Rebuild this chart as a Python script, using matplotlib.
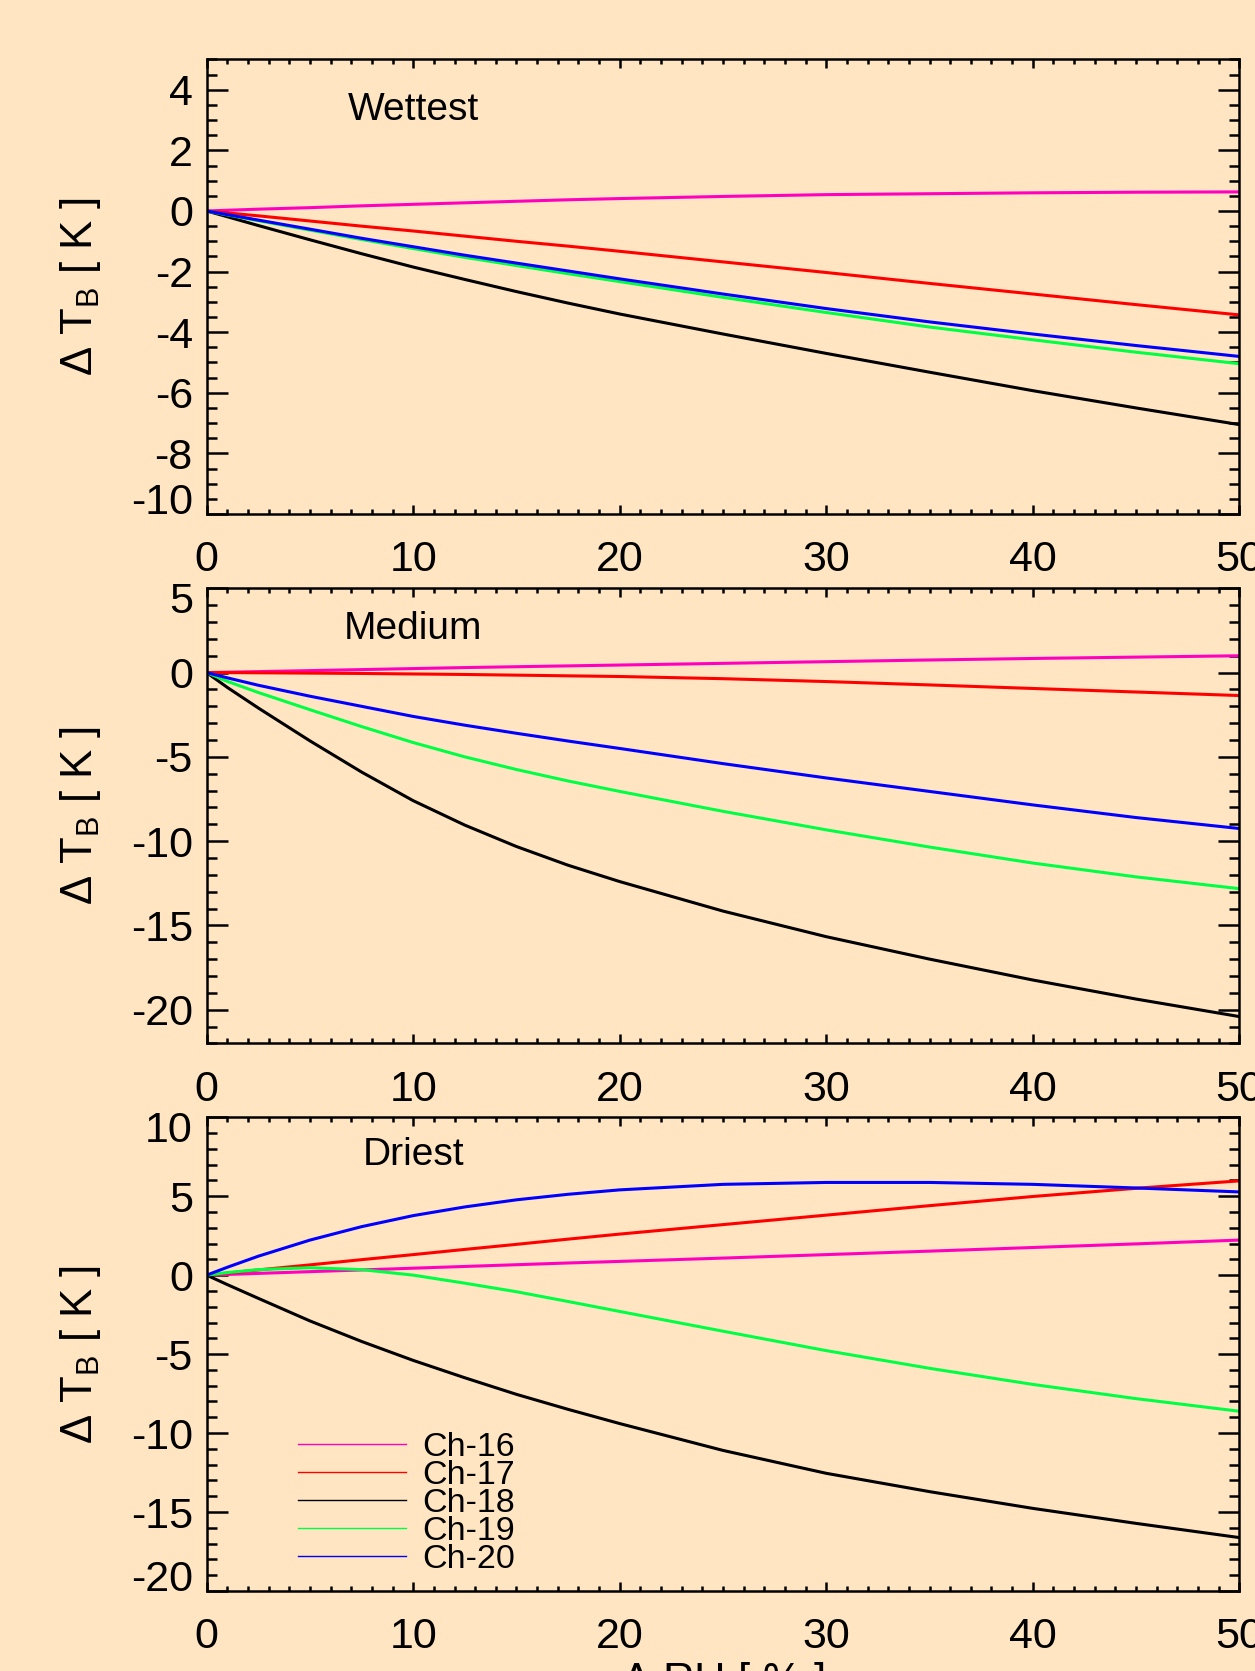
import numpy as np
import matplotlib
matplotlib.use("Agg")
import matplotlib.pyplot as plt
from matplotlib.ticker import MultipleLocator
from matplotlib.transforms import ScaledTranslation

plt.rcParams['font.family'] = ['Liberation Sans', 'DejaVu Sans']
plt.rcParams['mathtext.fontset'] = 'custom'
plt.rcParams['mathtext.rm'] = 'Liberation Sans'
plt.rcParams['axes.unicode_minus'] = False

# change in relative humidity [%]
drh = [0, 1, 2.5, 5, 7.5, 10, 12.5, 15, 17.5, 20, 25, 30, 35, 40, 45, 50]

channels = ["Ch-16", "Ch-17", "Ch-18", "Ch-19", "Ch-20"]
colors = ["#FF00C0", "#FF0000", "#000000", "#00FF44", "#0000FF"]

# Wettest profile
wet_ch16 = [0, 0.025, 0.06, 0.11, 0.17, 0.22, 0.27, 0.32, 0.37, 0.41, 0.48, 0.54, 0.57, 0.60, 0.62, 0.63]
wet_ch17 = [0, -0.065, -0.16, -0.33, -0.50, -0.66, -0.83, -1.00, -1.16, -1.33, -1.68, -2.03, -2.39, -2.74, -3.09, -3.43]
wet_ch18 = [0, -0.19, -0.48, -0.95, -1.41, -1.85, -2.26, -2.66, -3.04, -3.40, -4.06, -4.70, -5.32, -5.93, -6.50, -7.05]
wet_ch19 = [0, -0.13, -0.32, -0.63, -0.94, -1.24, -1.53, -1.80, -2.07, -2.33, -2.85, -3.35, -3.83, -4.25, -4.66, -5.04]
wet_ch20 = [0, -0.12, -0.30, -0.60, -0.90, -1.18, -1.46, -1.72, -1.98, -2.24, -2.74, -3.22, -3.66, -4.06, -4.44, -4.80]

# Medium profile
med_ch16 = [0, 0.025, 0.06, 0.12, 0.18, 0.24, 0.30, 0.35, 0.40, 0.45, 0.55, 0.65, 0.75, 0.84, 0.92, 1.00]
med_ch17 = [0, 0.0, -0.01, -0.03, -0.05, -0.08, -0.11, -0.15, -0.19, -0.23, -0.36, -0.53, -0.73, -0.94, -1.15, -1.36]
med_ch18 = [0, -0.88, -2.1, -4.05, -5.9, -7.6, -9.05, -10.32, -11.43, -12.4, -14.15, -15.67, -17.0, -18.24, -19.37, -20.41]
med_ch19 = [0, -0.52, -1.18, -2.2, -3.2, -4.15, -5.0, -5.75, -6.43, -7.05, -8.23, -9.33, -10.35, -11.3, -12.12, -12.82]
med_ch20 = [0, -0.31, -0.75, -1.4, -2.0, -2.6, -3.12, -3.6, -4.06, -4.5, -5.4, -6.25, -7.05, -7.85, -8.6, -9.25]

# Driest profile
dry_ch16 = [0, 0.045, 0.11, 0.22, 0.33, 0.44, 0.55, 0.66, 0.77, 0.87, 1.08, 1.30, 1.52, 1.75, 1.98, 2.22]
dry_ch17 = [0, 0.13, 0.33, 0.65, 0.98, 1.30, 1.63, 1.95, 2.28, 2.60, 3.20, 3.80, 4.40, 4.98, 5.50, 5.97]
dry_ch18 = [0, -0.6, -1.47, -2.9, -4.2, -5.4, -6.5, -7.55, -8.5, -9.4, -11.1, -12.55, -13.71, -14.77, -15.72, -16.62]
dry_ch19 = [0, 0.16, 0.35, 0.47, 0.35, 0.0, -0.51, -1.05, -1.67, -2.3, -3.55, -4.78, -5.9, -6.92, -7.82, -8.62]
dry_ch20 = [0, 0.5, 1.2, 2.22, 3.07, 3.77, 4.32, 4.77, 5.12, 5.4, 5.75, 5.87, 5.87, 5.75, 5.52, 5.27]

panels = [
    ("Wettest", [wet_ch16, wet_ch17, wet_ch18, wet_ch19, wet_ch20], (-10, 5), 2, 0.5, 3),
    ("Medium", [med_ch16, med_ch17, med_ch18, med_ch19, med_ch20], (-22, 5), 5, 1, 2),
    ("Driest", [dry_ch16, dry_ch17, dry_ch18, dry_ch19, dry_ch20], (-20, 10), 5, 1, 7),
]

bg = "#FFE5C1"
fig = plt.figure(figsize=(12.55, 16.71), dpi=100, facecolor=bg)

# axes boxes (left, bottom, width, height) in figure fraction
boxes = [
    (0.1647, 0.6924, 0.8228, 0.2720),
    (0.1647, 0.3756, 0.8228, 0.2723),
    (0.1647, 0.0479, 0.8228, 0.2835),
]

axes = []
for (title, series, ylim, major, minor, ytitle), box in zip(panels, boxes):
    ax = fig.add_axes(box)
    ax.set_facecolor(bg)
    for vals, col, lab in zip(series, colors, channels):
        ax.plot(drh, vals, color=col, lw=2.2, label=lab)
    ax.set_xlim(0, 50)
    ax.set_ylim(*ylim)
    ax.xaxis.set_major_locator(MultipleLocator(10))
    ax.xaxis.set_minor_locator(MultipleLocator(1))
    ax.yaxis.set_major_locator(MultipleLocator(major))
    ax.yaxis.set_minor_locator(MultipleLocator(minor))
    ax.tick_params(which='both', direction='in', top=True, right=True,
                   width=1.8, labelsize=31)
    ax.tick_params(axis='y', which='major', length=15, pad=10)
    ax.tick_params(axis='y', which='minor', length=7.5)
    ax.tick_params(axis='x', which='major', length=6.5, pad=19)
    ax.tick_params(axis='x', which='minor', length=3.3)
    for s in ax.spines.values():
        s.set_linewidth(1.8)
    ax.text(10, ytitle, title, fontsize=28, ha='center', va='baseline')
    ax.set_ylabel(r"$\Delta$ T$_\mathrm{B}$ [ K ]", fontsize=31.5)
    ax.yaxis.set_label_coords(-0.100, 0.5)
    axes.append(ax)

ax = axes[-1]
ax.set_xlabel(r"$\Delta$ RH [ % ]", fontsize=31.5)
ax.xaxis.set_label_coords(0.5, -0.145)

leg = ax.legend(loc='upper left', bbox_to_anchor=(0.088, 0.335), frameon=False,
                fontsize=24.5, handlelength=3.2, handletextpad=0.47,
                labelspacing=-0.09, borderpad=0, borderaxespad=0)
for line in leg.get_lines():
    line.set_linewidth(1.0)

# shift the end labels of each y axis inward, like the original plot
fig.canvas.draw()
for ax in axes:
    lo, hi = ax.get_ylim()
    for lbl in ax.get_yticklabels():
        y = lbl.get_position()[1]
        if abs(y - hi) < 1e-6:
            lbl.set_transform(lbl.get_transform() + ScaledTranslation(0, -0.09, fig.dpi_scale_trans))
        elif abs(y - lo) < 1e-6:
            lbl.set_transform(lbl.get_transform() + ScaledTranslation(0, 0.15, fig.dpi_scale_trans))

fig.savefig("out.png", dpi=100, facecolor=bg)
